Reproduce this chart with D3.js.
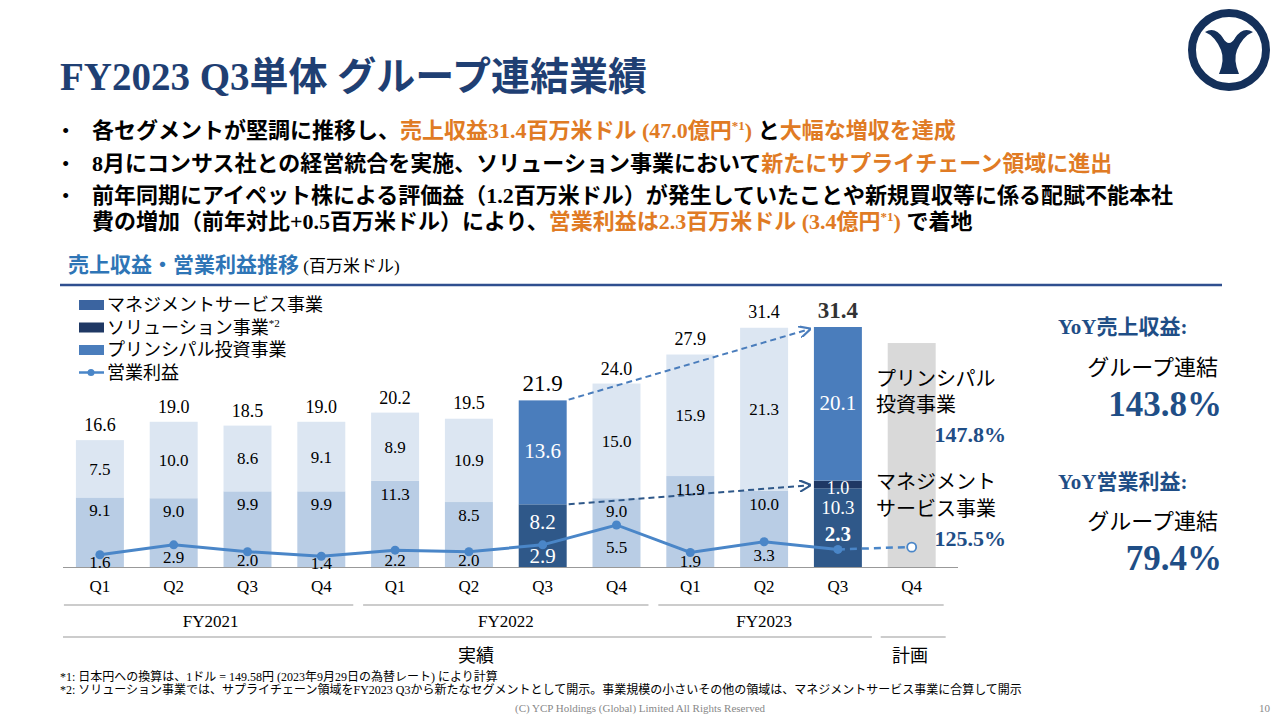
<!DOCTYPE html>
<html><head><meta charset="utf-8">
<script src="https://cdn.jsdelivr.net/npm/d3@7"></script>
<style>body{margin:0;background:#fff}svg{font-family:"Liberation Serif","Noto Sans CJK JP",serif}</style>
</head><body><svg id="c" width="1280" height="720"></svg>
<script>
const quarters=["Q1","Q2","Q3","Q4","Q1","Q2","Q3","Q4","Q1","Q2","Q3","Q4"];
const keys=["21Q1","21Q2","21Q3","21Q4","22Q1","22Q2","22Q3","22Q4","23Q1","23Q2","23Q3","23Q4"];
const management=[9.1,9.0,9.9,9.9,11.3,8.5,8.2,9.0,11.9,10.0,10.3,null];
const solution=[0,0,0,0,0,0,0,0,0,0,1.0,null];
const principal=[7.5,10.0,8.6,9.1,8.9,10.9,13.6,15.0,15.9,21.3,20.1,null];
const totals=[16.6,19.0,18.5,19.0,20.2,19.5,21.9,24.0,27.9,31.4,31.4,null];
const planTotal=29.3;
const opProfit=[1.6,2.9,2.0,1.4,2.2,2.0,2.9,5.5,1.9,3.3,2.3];
const opPlan=2.6;
const highlight=[6,10];
const fiscalYears=[{n:"FY2021",a:0,b:3},{n:"FY2022",a:4,b:7},{n:"FY2023",a:8,b:11}];

const svg=d3.select("#c");
const navy="#1f3f73", orange="#e07b24", blueT="#1f4e86";
svg.append("text").attr("x",60).attr("y",90).attr("font-size",39).attr("font-weight","bold").attr("fill",navy).text("FY2023 Q3単体 グループ連結業績");
const lg=svg.append("g").attr("transform","translate(1229,50)");
lg.append("circle").attr("r",37).attr("fill","none").attr("stroke","#14305a").attr("stroke-width",8);
lg.append("path").attr("d","M-24,-18 Q-14,-24 -6,-12 Q0,-2 6,-12 Q14,-24 24,-18 Q14,-14 8,0 Q4,10 10,24 L-10,24 Q-4,10 -8,0 Q-14,-14 -24,-18Z").attr("fill","#14305a");
lg.append("circle").attr("cy",-14).attr("r",6).attr("fill","#fff");
const bl=[[["各セグメントが堅調に推移し、","#000"],["売上収益31.4百万米ドル (47.0億円",orange],["*1","sup"],[")",orange],[" と","#000"],["大幅な増収を達成",orange]],
[["8月にコンサス社との経営統合を実施、ソリューション事業において","#000"],["新たにサプライチェーン領域に進出",orange]],
[["前年同期にアイペット株による評価益（1.2百万米ドル）が発生していたことや新規買収等に係る配賦不能本社","#000"]],
[["費の増加（前年対比+0.5百万米ドル）により、","#000"],["営業利益は2.3百万米ドル (3.4億円",orange],["*1","sup"],[")",orange],[" で着地","#000"]]];
const by=[138,171,203,229];
bl.forEach((line,i)=>{
  if(i<3) svg.append("text").attr("x",62).attr("y",by[i]).attr("font-size",21).text("•");
  const t=svg.append("text").attr("x",92).attr("y",by[i]).attr("font-size",22).attr("font-weight","bold");
  line.forEach(s=>{
    if(s[1]==="sup") t.append("tspan").attr("fill",orange).attr("font-size",13).attr("dy",-8).text(s[0]);
    else {const ts=t.append("tspan").attr("fill",s[1]).text(s[0]); if(s[0]===")") ts.attr("dy",8);}
  });
});
const h=svg.append("text").attr("x",68).attr("y",272).attr("font-size",21).attr("font-weight","bold");
h.append("tspan").attr("fill","#2e75b6").text("売上収益・営業利益推移");
h.append("tspan").attr("font-size",17).attr("font-weight","normal").attr("fill","#000").text(" (百万米ドル)");
svg.append("line").attr("x1",60).attr("x2",1222).attr("y1",285).attr("y2",285).attr("stroke","#2f4f8f").attr("stroke-width",2.5);

const x=d3.scaleBand().domain(keys).range([63,63+12*73.8]).paddingInner(0.35).paddingOuter(0.175);
const y=d3.scaleLinear().domain([0,31.4]).range([567,327]);
const bw=x.bandwidth();
const isH=i=>highlight.includes(i);
const cols={pL:"#dce6f2",mL:"#b9cde5",pH:"#4a7dbc",mH:"#2f5889",s:"#1f3864",plan:"#d9d9d9"};
const g=svg.append("g");
keys.forEach((k,i)=>{
  const x0=x(k);
  if(i===11){g.append("rect").attr("x",x0).attr("width",bw).attr("y",y(planTotal)).attr("height",y(0)-y(planTotal)).attr("fill",cols.plan);return;}
  const m=management[i],s=solution[i],p=principal[i];
  g.append("rect").attr("x",x0).attr("width",bw).attr("y",y(m)).attr("height",y(0)-y(m)).attr("fill",isH(i)?cols.mH:cols.mL);
  if(s>0) g.append("rect").attr("x",x0).attr("width",bw).attr("y",y(m+s)).attr("height",y(0)-y(s)).attr("fill",cols.s);
  g.append("rect").attr("x",x0).attr("width",bw).attr("y",y(m+s+p)).attr("height",y(0)-y(p)).attr("fill",isH(i)?cols.pH:cols.pL);
});
svg.append("line").attr("x1",63).attr("x2",958).attr("y1",567.5).attr("y2",567.5).attr("stroke","#999").attr("stroke-width",1);

const defs=svg.append("defs");
[["a1","#4a7dbc"],["a2","#2f5889"]].forEach(([id,c])=>defs.append("marker").attr("id",id).attr("viewBox","0 0 10 10").attr("refX",9).attr("refY",5).attr("markerWidth",6).attr("markerHeight",6).attr("orient","auto").append("path").attr("d","M0,0L10,5L0,10").attr("fill","none").attr("stroke",c).attr("stroke-width",1.8));
svg.append("line").attr("x1",x(keys[6])+bw+2).attr("y1",y(totals[6])).attr("x2",x(keys[10])-4).attr("y2",y(totals[10])+2).attr("stroke","#4a7dbc").attr("stroke-width",2).attr("stroke-dasharray","6,4").attr("marker-end","url(#a1)");
svg.append("line").attr("x1",x(keys[6])+bw+2).attr("y1",y(management[6])).attr("x2",x(keys[10])-4).attr("y2",y(10.7)).attr("stroke","#2f5889").attr("stroke-width",2).attr("stroke-dasharray","6,4").attr("marker-end","url(#a2)");

const cx=i=>x(keys[i])+bw/2;
svg.append("path").datum(opProfit).attr("d",d3.line().x((d,i)=>cx(i)).y(d=>y(d))).attr("fill","none").attr("stroke","#4a86c8").attr("stroke-width",3);
svg.append("line").attr("x1",cx(10)).attr("y1",y(opProfit[10])).attr("x2",cx(11)-5).attr("y2",y(opPlan)).attr("stroke","#4a86c8").attr("stroke-width",2.5).attr("stroke-dasharray","7,5");
svg.selectAll(".pt").data(opProfit).enter().append("circle").attr("cx",(d,i)=>cx(i)).attr("cy",d=>y(d)).attr("r",4.5).attr("fill","#4a86c8");
svg.append("circle").attr("cx",cx(11)).attr("cy",y(opPlan)).attr("r",4.5).attr("fill","#fff").attr("stroke","#4a86c8").attr("stroke-width",1.8);

const T=(xx,yy,txt,o={})=>svg.append("text").attr("x",xx).attr("y",yy).attr("text-anchor",o.a||"middle").attr("font-size",o.s||17).attr("font-weight",o.b?"bold":"normal").attr("fill",o.c||"#000").text(txt);
keys.forEach((k,i)=>{
  const c=cx(i);
  T(c,592,quarters[i],{s:17});
  if(i===11) return;
  const m=management[i],s=solution[i],p=principal[i],hl=isH(i);
  const tc=i===10?"#333":"#000";
  T(c,y(totals[i])-9,totals[i].toFixed(1),{s:hl?23:18,b:i===10,c:tc});
  T(c,(y(m+s)+y(m+s+p))/2+6,p.toFixed(1),{s:hl?21:17,c:hl?"#fff":"#000"});
  if(i===10){
    T(c,y(m+s)+13,s.toFixed(1),{s:18,c:"#fff"});
    T(c,y(m)+26,m.toFixed(1),{s:19,c:"#fff"});
  } else T(c,y(m)+(hl?25:19),m.toFixed(1),{s:hl?21:17,c:hl?"#fff":"#000"});
  const oy=hl?(i===10?y(opProfit[i])-8:y(0)-4):(y(opProfit[i])+y(0))/2+7;
  T(c,oy,opProfit[i].toFixed(1),{s:hl?21:17,b:i===10,c:hl?"#fff":"#000"});
});
const leg=[["マネジメントサービス事業","#3b64a0","r"],["ソリューション事業","#1f3864","r"],["プリンシパル投資事業","#4a7dbc","r"],["営業利益","#4a86c8","l"]];
leg.forEach((d,i)=>{
  const yy=305+i*22.5;
  if(d[2]==="r") svg.append("rect").attr("x",79).attr("y",yy-5).attr("width",25).attr("height",10).attr("fill",d[1]);
  else {svg.append("line").attr("x1",79).attr("x2",104).attr("y1",yy).attr("y2",yy).attr("stroke",d[1]).attr("stroke-width",2.5);svg.append("circle").attr("cx",91).attr("cy",yy).attr("r",3.5).attr("fill",d[1]);}
  const t=T(107,yy+6,d[0],{a:"start",s:18});
  if(i===1) t.append("tspan").attr("font-size",11).attr("dy",-7).text("*2");
});
T(876,386,"プリンシパル",{a:"start",s:20});
T(876,412,"投資事業",{a:"start",s:20});
T(1006,442,"147.8%",{a:"end",s:22,b:true,c:blueT});
T(876,489,"マネジメント",{a:"start",s:20});
T(876,516,"サービス事業",{a:"start",s:20});
T(1006,546,"125.5%",{a:"end",s:22,b:true,c:blueT});
T(1058,334,"YoY売上収益:",{a:"start",s:21,b:true,c:blueT});
T(1218,375,"グループ連結",{a:"end",s:22});
T(1222,416,"143.8%",{a:"end",s:35,b:true,c:blueT});
T(1058,489,"YoY営業利益:",{a:"start",s:21,b:true,c:blueT});
T(1218,529,"グループ連結",{a:"end",s:22});
T(1222,570,"79.4%",{a:"end",s:35,b:true,c:blueT});
fiscalYears.forEach(f=>{
  const x1=x(keys[f.a])-12,x2=x(keys[f.b])+bw+12;
  svg.append("line").attr("x1",x1+(f.a?4:0)).attr("x2",x2-4).attr("y1",605).attr("y2",605).attr("stroke","#999");
  T((x(keys[f.a])+x(keys[f.b===11?10:f.b])+bw)/2,627,f.n,{s:17});
});
svg.append("line").attr("x1",63).attr("x2",x(keys[10])+bw+10).attr("y1",637).attr("y2",637).attr("stroke","#999");
svg.append("line").attr("x1",x(keys[11])-7).attr("x2",x(keys[11])+bw+10).attr("y1",637).attr("y2",637).attr("stroke","#999");
T(476,662,"実績",{s:18});
T(910,662,"計画",{s:18});
T(60,681,"*1: 日本円への換算は、1ドル = 149.58円 (2023年9月29日の為替レート) により計算",{a:"start",s:12});
T(60,694,"*2: ソリューション事業では、サプライチェーン領域をFY2023 Q3から新たなセグメントとして開示。事業規模の小さいその他の領域は、マネジメントサービス事業に合算して開示",{a:"start",s:12});
T(640,712,"(C) YCP Holdings (Global) Limited All Rights Reserved",{s:11,c:"#888"});
T(1270,712,"10",{a:"end",s:11,c:"#888"});
</script></body></html>
